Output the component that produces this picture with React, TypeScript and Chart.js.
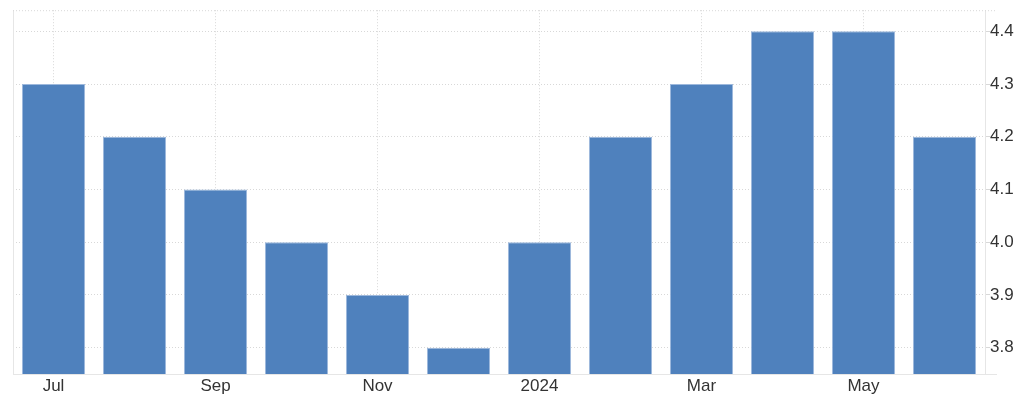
import React, { useEffect, useRef } from "react";
import { Chart, registerables } from "chart.js";

Chart.register(...registerables);

const categories = ["Jul", "Aug", "Sep", "Oct", "Nov", "Dec", "Jan", "Feb", "Mar", "Apr", "May", "Jun"];
const values = [4.3, 4.2, 4.1, 4.0, 3.9, 3.8, 4.0, 4.2, 4.3, 4.4, 4.4, 4.2];
const xTickLabels = ["Jul", "", "Sep", "", "Nov", "", "2024", "", "Mar", "", "May", ""];
const yTicks = [3.8, 3.9, 4.0, 4.1, 4.2, 4.3, 4.4];

const FONT = "'Liberation Sans', Arial, sans-serif";
const GRID = "#d8d8d8";
const FRAME = "#e6e6e6";

const framePlugin = {
  id: "frame",
  beforeDatasetsDraw(chart: any) {
    const { ctx, chartArea } = chart;
    const { left, right, top, bottom } = chartArea;
    ctx.save();
    ctx.lineWidth = 1;
    ctx.strokeStyle = FRAME;
    ctx.setLineDash([]);
    ctx.beginPath();
    ctx.moveTo(left + 0.5, top);
    ctx.lineTo(left + 0.5, bottom);
    ctx.moveTo(right + 0.5, top);
    ctx.lineTo(right + 0.5, bottom);
    ctx.moveTo(left, bottom + 0.5);
    ctx.lineTo(right + 12, bottom + 0.5);
    ctx.stroke();
    ctx.strokeStyle = GRID;
    ctx.setLineDash([1, 2]);
    ctx.beginPath();
    ctx.moveTo(left, top + 0.5);
    ctx.lineTo(right + 12, top + 0.5);
    ctx.stroke();
    ctx.restore();
  },
};

export default function App() {
  const ref = useRef<HTMLCanvasElement>(null);
  useEffect(() => {
    if (!ref.current) return;
    const chart = new Chart(ref.current, {
      type: "bar",
      data: {
        labels: categories,
        datasets: [
          {
            data: values,
            backgroundColor: "#4f81bd",
            borderColor: "#9db8dc",
            borderWidth: 1,
            barPercentage: 0.78,
            categoryPercentage: 1,
          },
        ],
      },
      options: {
        responsive: false,
        animation: false,
        layout: { padding: { left: 13, top: 6, right: 0, bottom: 0 } },
        plugins: { legend: { display: false }, tooltip: { enabled: false } },
        scales: {
          x: {
            offset: true,
            grid: {
              offset: false,
              drawTicks: false,
              color: (c: any) => (xTickLabels[c.index] ? GRID : "rgba(0,0,0,0)"),
            },
            border: { display: false, dash: [1, 2] },
            ticks: {
              autoSkip: false,
              maxRotation: 0,
              padding: 2,
              color: "#333",
              font: { family: FONT, size: 17 },
              callback: (_v: any, i: number) => xTickLabels[i],
            },
            afterFit: (s: any) => {
              s.height = 29;
            },
          },
          y: {
            position: "right",
            min: 3.75,
            max: 4.44,
            afterBuildTicks: (s: any) => {
              s.ticks = yTicks.map((v) => ({ value: v }));
            },
            grid: { color: GRID, drawTicks: true, tickLength: 5 },
            border: { display: false, dash: [1, 2] },
            ticks: {
              padding: 0,
              color: "#333",
              font: { family: FONT, size: 17 },
              callback: (v: any) => Number(v).toFixed(1),
            },
            afterFit: (s: any) => {
              s.width = 39;
            },
          },
        },
      },
      plugins: [framePlugin],
    });
    return () => chart.destroy();
  }, []);
  return (
    <div style={{ position: "absolute", left: 0, top: 0, width: 1024, height: 403, background: "#fff" }}>
      <canvas ref={ref} width={1024} height={403} />
    </div>
  );
}
